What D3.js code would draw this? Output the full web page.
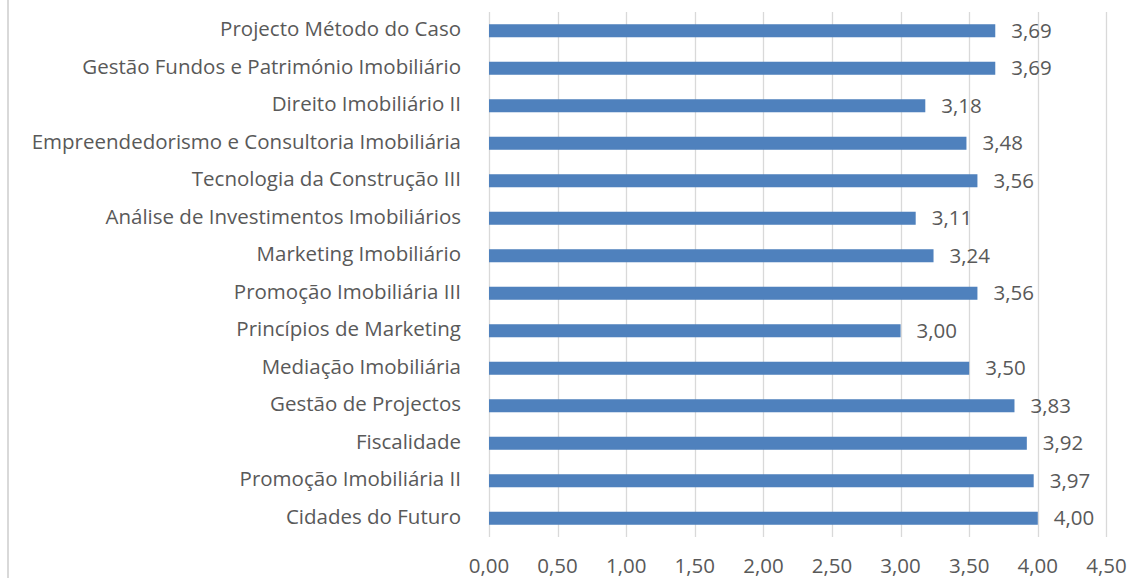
<!DOCTYPE html>
<html>
<head>
<meta charset="utf-8">
<script src="https://cdn.jsdelivr.net/npm/d3@7"></script>
<style>
    body { margin: 0; background: #fff; }
    svg { display: block; }
    text { font-family: "Open Sans", "Noto Sans", sans-serif; fill: #595959; }
</style>
</head>
<body>
<svg id="chart"></svg>
<script>
const width = 1130;
const height = 578;

const categories = [
    'Projecto Método do Caso',
    'Gestão Fundos e Património Imobiliário',
    'Direito Imobiliário II',
    'Empreendedorismo e Consultoria Imobiliária',
    'Tecnologia da Construção III',
    'Análise de Investimentos Imobiliários',
    'Marketing Imobiliário',
    'Promoção Imobiliária III',
    'Princípios de Marketing',
    'Mediação Imobiliária',
    'Gestão de Projectos',
    'Fiscalidade',
    'Promoção Imobiliária II',
    'Cidades do Futuro'
];
const values = [3.69, 3.69, 3.18, 3.48, 3.56, 3.11, 3.24, 3.56, 3.00, 3.50, 3.83, 3.92, 3.97, 4.00];
const x_ticks = [0, 0.5, 1, 1.5, 2, 2.5, 3, 3.5, 4, 4.5];

const margin = {top: 12, left: 489, right: 24, bottom: 41};
const plot_width = width - margin.left - margin.right;
const plot_height = height - margin.top - margin.bottom;
const font_size = 20.5;

const fmt = v => d3.format('.2f')(v).replace('.', ',');

const svg = d3.select('#chart').attr('width', width).attr('height', height);

// chart frame edge on the left
svg.append('line')
    .attr('x1', 8).attr('x2', 8)
    .attr('y1', 0).attr('y2', height)
    .attr('stroke', '#d9d9d9').attr('stroke-width', 2);

const g = svg.append('g').attr('transform', `translate(${margin.left},${margin.top})`);

const x = d3.scaleLinear().domain([0, 4.5]).range([0, 617.4]);
const y = d3.scaleBand().domain(categories).range([0, plot_height]).paddingInner(0.653).paddingOuter(0.3265);

// gridlines
g.append('g').selectAll('line').data(x_ticks).join('line')
    .attr('x1', d => Math.round(x(d)) + 0.5).attr('x2', d => Math.round(x(d)) + 0.5)
    .attr('y1', 0).attr('y2', plot_height)
    .attr('stroke', '#d9d9d9').attr('stroke-width', 1.3);

// x tick labels
g.append('g').selectAll('text').data(x_ticks).join('text')
    .attr('x', d => x(d))
    .attr('y', plot_height + 31)
    .attr('text-anchor', 'middle')
    .attr('dominant-baseline', 'middle')
    .attr('font-size', font_size)
    .text(fmt);

// bars
g.append('g').selectAll('rect').data(values).join('rect')
    .attr('x', x(0))
    .attr('y', (d, i) => y(categories[i]))
    .attr('width', d => x(d))
    .attr('height', y.bandwidth())
    .attr('fill', '#4f81bd');

// value labels
g.append('g').selectAll('text').data(values).join('text')
    .attr('x', d => x(d) + 16)
    .attr('y', (d, i) => y(categories[i]) + y.bandwidth() / 2 + 1.5)
    .attr('dominant-baseline', 'middle')
    .attr('font-size', font_size)
    .text(fmt);

// category labels
g.append('g').selectAll('text').data(categories).join('text')
    .attr('x', -28)
    .attr('y', d => y(d) + y.bandwidth() / 2)
    .attr('text-anchor', 'end')
    .attr('dominant-baseline', 'middle')
    .attr('font-size', font_size)
    .text(d => d);
</script>
</body>
</html>
